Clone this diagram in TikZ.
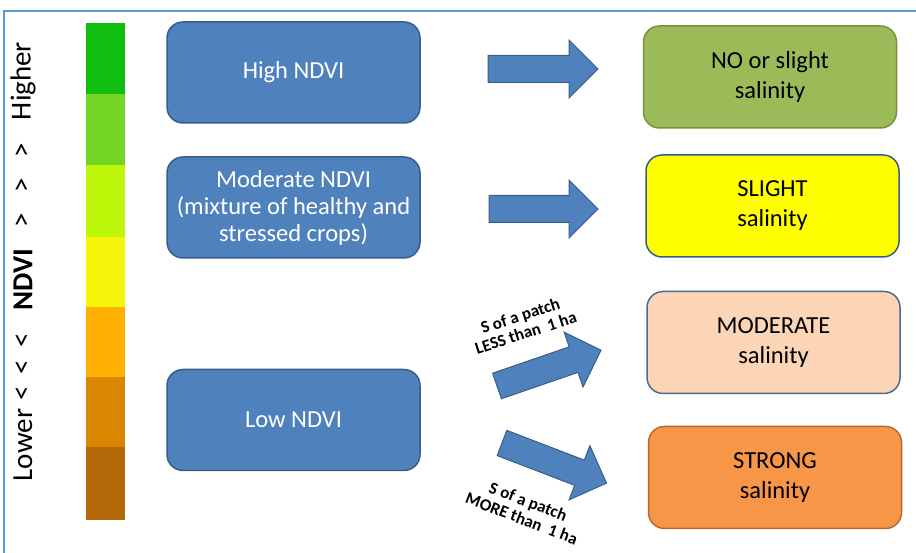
\documentclass[tikz,border=0pt]{standalone}
\usepackage{fontspec}
\setmainfont{Carlito}
\definecolor{frameblue}{HTML}{5B9BD5}
\definecolor{boxblue}{HTML}{4F81BD}
\definecolor{boxblueline}{HTML}{385D8A}
\definecolor{nofill}{HTML}{9BBB59}
\definecolor{noline}{HTML}{76923C}
\definecolor{slfill}{HTML}{FFFF00}
\definecolor{modfill}{HTML}{FBD5B5}
\definecolor{modline}{HTML}{4A6A8F}
\definecolor{strfill}{HTML}{F79646}
\definecolor{strline}{HTML}{B7692F}
\definecolor{barA}{HTML}{10BE10}
\definecolor{barB}{HTML}{75D525}
\definecolor{barC}{HTML}{BEF60A}
\definecolor{barD}{HTML}{F5F50A}
\definecolor{barE}{HTML}{FFB000}
\definecolor{barF}{HTML}{DA8600}
\definecolor{barG}{HTML}{B5680A}
\tikzset{
  ndvibox/.style={rectangle, rounded corners=16pt, fill=boxblue, draw=boxblueline, line width=1.5pt,
    minimum width=253pt, minimum height=101pt, text=white, align=center,
    font=\fontsize{24.5}{27}\selectfont},
  salbox/.style={rectangle, rounded corners=16pt, line width=1.5pt,
    minimum width=253pt, minimum height=102pt, text=black, align=center,
    font=\fontsize{24.5}{30}\selectfont},
  blockarrow/.style={fill=boxblue, draw=boxblueline, line width=1pt, line join=miter},
  scalelabel/.style={rotate=90, font=\fontsize{29}{30}\selectfont, inner sep=0pt},
  patchlabel/.style={align=center, font=\bfseries\fontsize{17}{18}\selectfont, inner sep=0pt},
  barseg/.style={inner sep=0pt}
}
\newcommand{\blockarr}[3]{%
  \begin{scope}[shift={(#1)}, rotate=#2]
    \filldraw[blockarrow] (0,-13.5) -- ({#3-29},-13.5) -- ({#3-29},-29) -- (#3,0)
      -- ({#3-29},29) -- ({#3-29},13.5) -- (0,13.5) -- cycle;
  \end{scope}}
\begin{document}
\begin{tikzpicture}[x=1pt, y=1pt]
\useasboundingbox (0,0) rectangle (916,553);
% frame
\draw[frameblue, line width=1.5pt] (4,0) -- (4,542) -- (916,542);
% colour bar
\fill[barA] (86,459) rectangle (125,530);
\fill[barB] (86,388) rectangle (125,459);
\fill[barC] (86,316) rectangle (125,388);
\fill[barD] (86,246) rectangle (125,316);
\fill[barE] (86,176) rectangle (125,246);
\fill[barF] (86,106) rectangle (125,176);
\fill[barG] (86,33) rectangle (125,106);
% scale labels
\node[scalelabel] (higher) at (23,472) {Higher};
\node[scalelabel] (g1) at (23,403) {>};
\node[scalelabel] (g2) at (23,368) {>};
\node[scalelabel] (g3) at (23,333) {>};
\node[scalelabel, font=\bfseries\fontsize{29}{30}\selectfont] (ndvi) at (23,273) {NDVI};
\node[scalelabel] (l1) at (23,213) {<};
\node[scalelabel] (l2) at (23,186) {<};
\node[scalelabel] (l3) at (23,160) {<};
\node[scalelabel] (lower) at (23,108) {Lower};
% NDVI boxes
\node[ndvibox] (high) at (293.5,480.5) {High NDVI};
\node[ndvibox] (mod) at (293.5,345.5) {Moderate NDVI\\(mixture of healthy and\\stressed crops)};
\node[ndvibox] (low) at (293.5,133) {Low NDVI};
% salinity boxes
\node[salbox, fill=nofill, draw=noline] (nosal) at (770,476) {NO or slight\\salinity};
\node[salbox, fill=slfill, draw=boxblueline] (slsal) at (772.5,347) {SLIGHT\\salinity};
\node[salbox, fill=modfill, draw=modline] (modsal) at (773.5,210.5) {MODERATE\\salinity};
\node[salbox, fill=strfill, draw=strline] (strsal) at (775,75.5) {STRONG\\salinity};
% block arrows
\coordinate (t1) at (488,484);
\coordinate (t2) at (489,344);
\coordinate (t3) at (497,167);
\coordinate (t4) at (502,110);
\blockarr{t1}{0}{110}
\blockarr{t2}{0}{109}
\blockarr{t3}{19}{110}
\blockarr{t4}{-21}{112}
% patch labels
\node[patchlabel, rotate=18] (less) at (523,229) {S of a patch\\LESS than\ \ 1 ha};
\node[patchlabel, rotate=-21] (more) at (525,43) {S of a patch\\MORE than\ \ 1 ha};
\end{tikzpicture}
\end{document}
